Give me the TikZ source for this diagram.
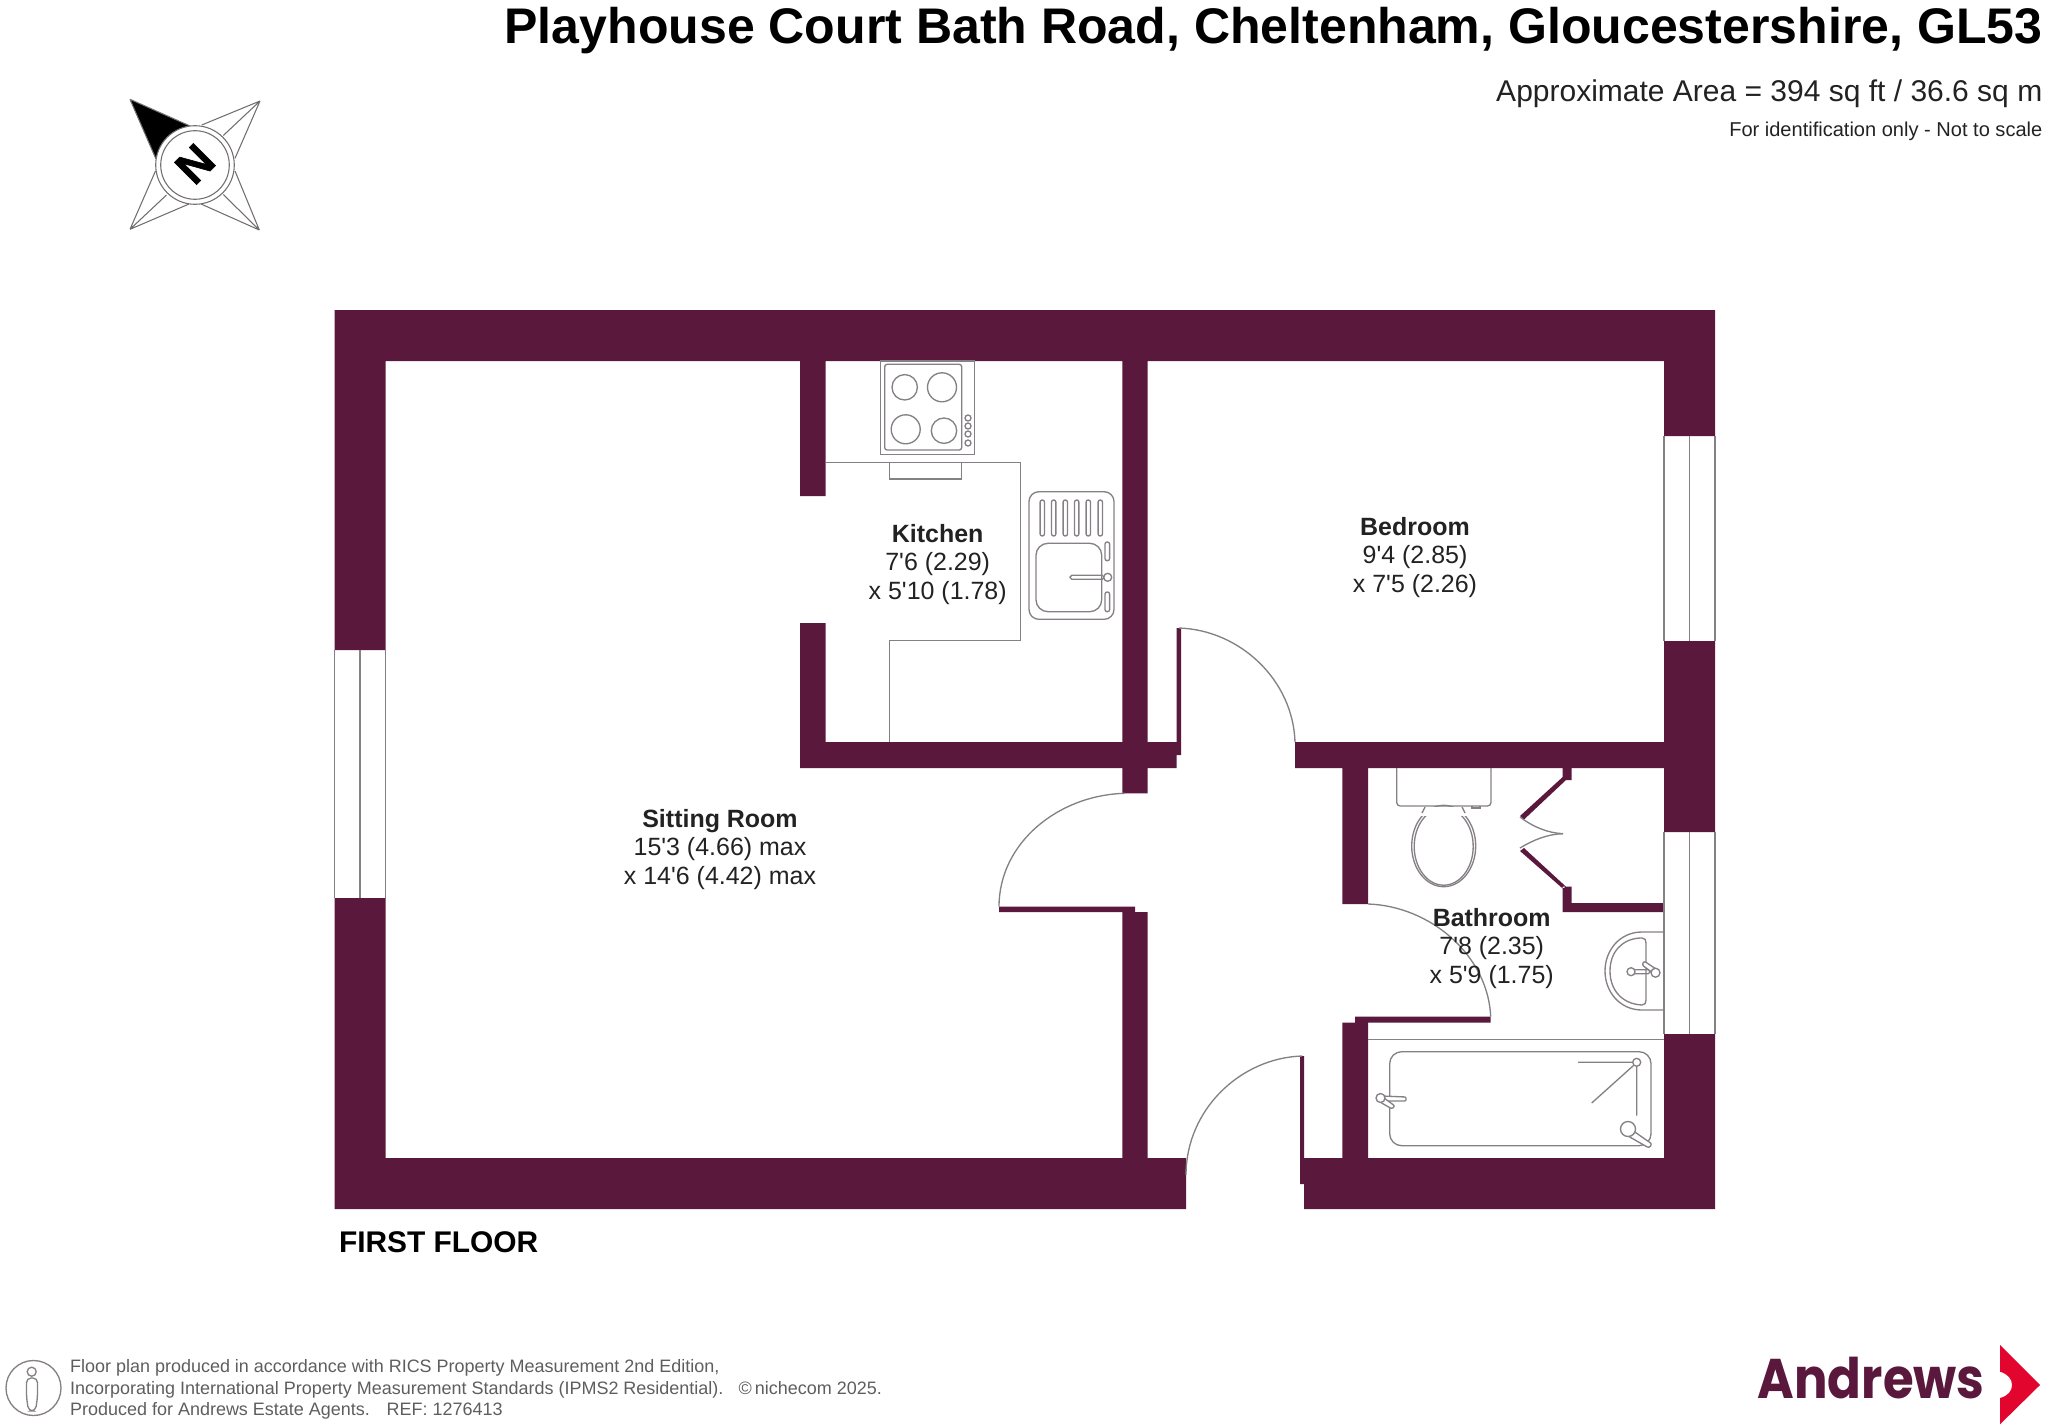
\documentclass[tikz,border=0pt]{standalone}
\usepackage{graphicx}
\usepackage{fontspec}
\setmainfont{Liberation Sans}[Ligatures=TeXOff]
\newfontfamily\logofont{Poppins}
\definecolor{wallc}{HTML}{5A183C}
\definecolor{fixc}{HTML}{858085}
\definecolor{txtc}{HTML}{222222}
\definecolor{footc}{HTML}{5E5E5E}
\definecolor{logored}{HTML}{E2062E}
\tikzset{
  wall/.style={fill=wallc,draw=none},
  fix/.style={draw=fixc,line width=0.38pt,fill=none},
  win/.style={draw=fixc,line width=0.3pt},
  room/.style={align=center,inner sep=0pt,text=txtc,font=\fontsize{7.1}{8}\selectfont},
  rt/.style={anchor=base east,inner sep=0pt},
  foot/.style={anchor=base west,inner sep=0pt,text=footc,font=\fontsize{5.11}{6}\selectfont},
  star/.style={draw=fixc!85!black,line width=0.3pt}
}
\begin{document}
\begin{tikzpicture}[x=0.01cm,y=-0.01cm]
\useasboundingbox (0,0) rectangle (2048,1427);
% walls
\path[wall]
 (334.5,310) rectangle (1715,361)
 (334.5,310) rectangle (385.5,650)
 (334.5,898) rectangle (385.5,1209)
 (334.5,1158) rectangle (1186,1209)
 (1304,1158) rectangle (1715,1209)
 (1300,1056) rectangle (1304,1184)
 (1664,310) rectangle (1715,436)
 (1664,641) rectangle (1715,832)
 (1664,1034) rectangle (1715,1209)
 (800,361) rectangle (825.7,496)
 (800,623) rectangle (825.7,768)
 (800,742) rectangle (1176.7,768)
 (1176.7,628) rectangle (1181,755)
 (1122.3,361) rectangle (1147.7,793.3)
 (1122.3,912) rectangle (1147.7,1158)
 (999,906.7) rectangle (1135,912)
 (1295,742) rectangle (1664,768)
 (1342.3,768) rectangle (1368,904)
 (1342.3,1022.7) rectangle (1368,1158)
 (1355,1016.7) rectangle (1490.7,1022.7)
 (1562.7,768) rectangle (1571.7,780)
 (1562.7,886.7) rectangle (1571.7,912)
 (1562.7,903) rectangle (1664,912)
 (1562.7,777) -- (1520,816) -- (1524,819.5) -- (1566,780) -- cycle
 (1562.7,888.5) -- (1520,851) -- (1524,848) -- (1566,886.7) -- cycle;
% windows
\draw[win] (334.5,650) -- (334.5,898) (360,650) -- (360,898) (385.5,650) -- (385.5,898);
\draw[win] (1664,436) -- (1664,641) (1689.5,436) -- (1689.5,641) (1715,436) -- (1715,641);
\draw[win] (1664,832) -- (1664,1034) (1689.5,832) -- (1689.5,1034) (1715,832) -- (1715,1034);
% door swings
\draw[fix] (999,906.7) .. controls (999,843) and (1058,795) .. (1125,793.3);
\draw[fix] (1179,628) .. controls (1240,630) and (1293,680) .. (1295,742);
\draw[fix] (1368,904) .. controls (1430,906) and (1488,955) .. (1490.7,1016.7);
\draw[fix] (1302,1056) .. controls (1240,1058) and (1186,1110) .. (1186,1175);
\draw[fix] (1520,817) .. controls (1533,827) and (1548,833) .. (1563,833.7);
\draw[fix] (1520,848) .. controls (1533,840) and (1548,834) .. (1563,833.7);
% kitchen counter and hob
\draw[fix] (825.7,462.3) -- (1020.7,462.3) -- (1020.7,640.7) -- (889.3,640.7) -- (889.3,742);
\draw[fix,fill=white] (880.7,361) rectangle (974.3,454.3);
\draw[fix,rounded corners=0.7pt] (884.7,364.3) rectangle (961.7,450);
\draw[fix] (904.7,387.3) circle[radius=12.7] (942,387.3) circle[radius=14.5]
           (905.7,429.3) circle[radius=14.5] (944,430.7) circle[radius=12.7];
\draw[fix] (968,418) circle[radius=3] (968,426) circle[radius=3] (968,434) circle[radius=3] (968,443) circle[radius=3];
\draw[fix] (889.3,462.3) -- (889.3,479) -- (961.7,479) -- (961.7,462.3);
% sink
\draw[fix,rounded corners=2.8pt] (1029,491.7) rectangle (1114,619.3);
\foreach \sx in {1042.3,1053.7,1065.3,1076.7,1088.3,1100.3}
  \draw[fix,rounded corners=0.6pt] (\sx-2.2,500) rectangle (\sx+2.2,536);
\draw[fix,rounded corners=3.4pt] (1036,543.3) rectangle (1101.7,611.7);
\draw[fix,rounded corners=0.6pt] (1105,542) rectangle (1109.6,560.7);
\draw[fix,rounded corners=0.6pt] (1105,592) rectangle (1109.6,611.7);
\draw[fix,rounded corners=0.5pt] (1070,575.3) rectangle (1104,579.3);
\draw[fix,fill=white] (1107.7,577.3) circle[radius=4];
% toilet
\draw[fix,rounded corners=1pt] (1396.7,768) -- (1396.7,806) -- (1491,806) -- (1491,768);
\draw[fix] (1443.7,846) ellipse[x radius=32,y radius=40.7];
\draw[fix] (1443.7,846.5) ellipse[x radius=29.5,y radius=38.7];
\fill[white] (1418,806.5) rectangle (1470,816);
\draw[fix] (1425,807) -- (1422,813) (1462,807) -- (1465,813);
\draw[fix] (1472,806) -- (1472,808) -- (1480,808) -- (1480,806);
% basin
\draw[fix] (1664,932) -- (1642,932) .. controls (1620,932) and (1605,950) .. (1605,971) .. controls (1605,992) and (1620,1010) .. (1642,1010) -- (1664,1010);
\draw[fix] (1640,938) -- (1642,938) .. controls (1645,938) and (1646,940) .. (1646,943) -- (1646,1000) .. controls (1646,1003) and (1645,1005) .. (1642,1005) .. controls (1622,1004) and (1610,990) .. (1610,971) .. controls (1610,952) and (1622,939) .. (1640,938);
\draw[fix,rounded corners=0.5pt] (1630.7,969.7) rectangle (1650,973.7);
\draw[fix,fill=white] (1631,971.7) circle[radius=4];
\draw[fix,fill=white,rounded corners=0.6pt] (1644,961) -- (1656,969) -- (1653,973) -- (1642,965) -- cycle;
\draw[fix,fill=white] (1655.5,972.7) circle[radius=4.5];
% bath
\draw[fix] (1368,1039.3) -- (1664,1039.3);
\draw[fix,rounded corners=3.4pt] (1389.7,1051.7) rectangle (1651,1145.7);
\draw[fix] (1578,1062.3) -- (1632.5,1062.3) (1591.7,1103) -- (1633.5,1065.5) (1636.7,1066.5) -- (1636.7,1115.7);
\draw[fix] (1636.7,1062.3) circle[radius=4];
\draw[fix,fill=white,rounded corners=0.6pt] (1632,1130) -- (1652,1144) -- (1649,1148) -- (1628,1136) -- cycle;
\draw[fix,fill=white] (1628,1129) circle[radius=7.5];
\draw[fix,fill=white,rounded corners=0.3pt] (1382,1096) -- (1406,1097) -- (1406,1101) -- (1384,1101) -- cycle;
\draw[fix,fill=white,rounded corners=0.6pt] (1384,1098) -- (1395,1106) -- (1392,1109) -- (1380,1102) -- cycle;
\draw[fix,fill=white] (1380.5,1098) circle[radius=4.5];
% compass
\fill[black] (130,99.3) -- (190,126) .. controls (172,130) and (160,143) .. (156,159) -- cycle;
\draw[star] (130,99.3) -- (190,126) (130,99.3) -- (156,159);
\draw[star] (260,101) -- (201.7,125) (260,101) -- (223.3,135.5) (260,101) -- (235,158.3);
\draw[star] (259.3,230) -- (235,171) (259.3,230) -- (223.3,194.5) (259.3,230) -- (201,204);
\draw[star] (130,229.3) -- (155.5,171) (130,229.3) -- (166.5,195) (130,229.3) -- (189,204);
\draw[star,fill=white] (195,165) circle[radius=39.3];
\draw[star] (195,165) circle[radius=34.3];
\node[rotate=45,inner sep=0pt,text=black,font=\fontsize{13}{14}\selectfont\bfseries\addfontfeature{FakeBold=1.2}] (compassN) at (195,164) {N};
% heading
\node[rt,text=black,font=\fontsize{14.23}{16}\selectfont\bfseries] (title) at (2043,44) {Playhouse Court Bath Road, Cheltenham, Gloucestershire, GL53};
\node[rt,text=txtc,font=\fontsize{8.53}{10}\selectfont] (area) at (2043,101) {Approximate Area = 394 sq ft / 36.6 sq m};
\node[rt,text=txtc,font=\fontsize{5.7}{7}\selectfont] (ident) at (2043,136) {For identification only - Not to scale};
% rooms
\node[room] (sitting) at (720,849.5) {\textbf{Sitting Room}\\15'3 (4.66) max\\x 14'6 (4.42) max};
\node[room] (kitchen) at (937.7,564.5) {\textbf{Kitchen}\\7'6 (2.29)\\x 5'10 (1.78)};
\node[room] (bedroom) at (1415,557.5) {\textbf{Bedroom}\\9'4 (2.85)\\x 7'5 (2.26)};
\node[room] (bathroom) at (1491.7,948.5) {\textbf{Bathroom}\\7'8 (2.35)\\x 5'9 (1.75)};
\node[anchor=base west,inner sep=0pt,text=black,font=\fontsize{8.5}{10}\selectfont\bfseries] (floor) at (338.3,1252) {FIRST FLOOR};
% footer
\draw[fix] (33.5,1388) circle[radius=27.5];
\draw[fix] (31.7,1371.7) circle[radius=4.5];
\draw[fix,rounded corners=1.3pt] (26.5,1378) -- (37.5,1378) -- (37.5,1397) -- (35.5,1411) -- (28.5,1411) -- (26.5,1397) -- cycle;
\node[foot] (foot1) at (69.5,1372.5) {Floor plan produced in accordance with RICS Property Measurement 2nd Edition,};
\node[foot] (foot2) at (69.5,1394) {Incorporating International Property Measurement Standards (IPMS2 Residential).};
\node[foot] (foot2b) at (738,1394) {©\,nichecom 2025.};
\node[foot] (foot3) at (69.5,1415.5) {Produced for Andrews Estate Agents.};
\node[foot] (foot3b) at (386,1415.5) {REF: 1276413};
% logo
\node[anchor=base west,inner sep=0pt,text=wallc,font=\fontsize{15.9}{18}\selectfont\logofont\bfseries] (logo) at (1757,1398) {\scalebox{0.89}[1]{Andrews}};
\fill[logored] (2000,1345) -- (2040,1385) -- (2000,1424.3) -- (2000,1398) .. controls (2008,1396) and (2012,1391) .. (2012,1385) .. controls (2012,1379) and (2008,1374) .. (2000,1371.7) -- cycle;
\end{tikzpicture}
\end{document}
